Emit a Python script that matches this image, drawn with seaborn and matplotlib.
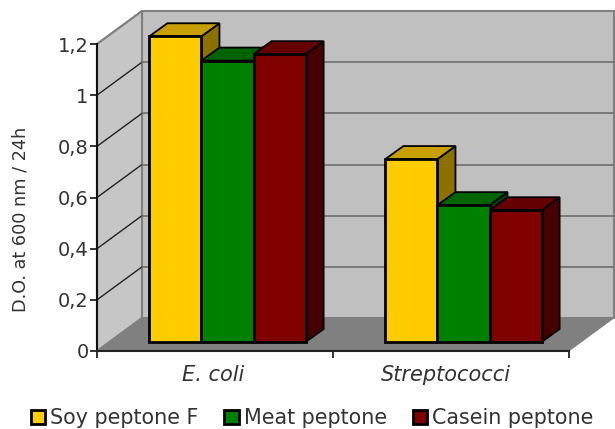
import pandas as pd
import matplotlib.pyplot as plt
import matplotlib.colors as mcolors
from matplotlib.patches import Polygon
import seaborn as sns

sns.set_style("white")

categories = ["E. coli", "Streptococci"]
series_names = ["Soy peptone F", "Meat peptone", "Casein peptone"]
soy_values = [1.195, 0.715]
meat_values = [1.10, 0.535]
casein_values = [1.125, 0.515]
colors = ["#FFCC00", "#008000", "#800000"]
y_ticks = [0, 0.2, 0.4, 0.6, 0.8, 1, 1.2]
y_tick_labels = ["0", "0,2", "0,4", "0,6", "0,8", "1", "1,2"]

df = pd.DataFrame({
    "Category": categories * 3,
    "Series": [s for s in series_names for _ in categories],
    "Value": soy_values + meat_values + casein_values,
})

W, H = 615, 429
text_color = "#333333"

fig = plt.figure(figsize=(W / 100, H / 100), dpi=100, facecolor="white")


def px_rect(left, top, right, bottom):
    return [left / W, 1 - bottom / H, (right - left) / W, (bottom - top) / H]


# main axes holds the walls, floor and the axis lines
ax = fig.add_axes(px_rect(97, 44, 569, 351))
ax.set_xlim(0, 2)
ax.set_ylim(0, 1.2)
ax.patch.set_alpha(0)

# one pixel in data units of the main axes
ux = 2 / 472
uy = 1.2 / 307
wall_dx = 45 * ux
wall_dy = 33 * uy

ax.add_patch(Polygon([(wall_dx, wall_dy), (2 + wall_dx, wall_dy), (2 + wall_dx, 1.2 + wall_dy), (wall_dx, 1.2 + wall_dy)],
                     closed=True, facecolor="#C0C0C0", edgecolor="#808080", linewidth=1.5, clip_on=False, zorder=0))
ax.add_patch(Polygon([(0, 0), (wall_dx, wall_dy), (wall_dx, 1.2 + wall_dy), (0, 1.2)],
                     closed=True, facecolor="#C6C6C6", edgecolor="#808080", linewidth=1.5, clip_on=False, zorder=0))
ax.add_patch(Polygon([(0, 0), (2, 0), (2 + wall_dx, wall_dy), (wall_dx, wall_dy)],
                     closed=True, facecolor="#808080", edgecolor="#808080", linewidth=0.5, clip_on=False, zorder=1))

# grid lines along the left wall and the back wall
for t in y_ticks[1:-1]:
    ax.plot([0, wall_dx], [t, t + wall_dy], color="#222222", lw=1, clip_on=False, zorder=2)
    ax.plot([wall_dx, 2 + wall_dx], [t + wall_dy, t + wall_dy], color="#6E6E6E", lw=1.2, clip_on=False, zorder=2)
ax.plot([0, wall_dx], [1.2, 1.2 + wall_dy], color="#808080", lw=1.2, clip_on=False, zorder=2)

ax.set_yticks(y_ticks)
ax.set_yticklabels(y_tick_labels, fontsize=14, color=text_color)
ax.set_xticks([0, 1, 2])
ax.set_xticklabels([])
ax.set_xticks([0.49, 1.48], labels=categories, minor=True, fontsize=15, style="italic", color=text_color)
ax.tick_params(axis="both", which="major", length=5, width=1.2, color="#111111", left=True, bottom=True, pad=1)
ax.tick_params(axis="x", which="minor", length=0, pad=10)
ax.set_ylabel("D.O. at 600 nm / 24h", fontsize=12.7, color=text_color)
ax.yaxis.set_label_coords(-67 / 472, 0.43)
ax.set_xlabel("")
sns.despine(ax=ax)
ax.spines["left"].set_linewidth(1.5)
ax.spines["bottom"].set_linewidth(1.5)
ax.spines["left"].set_color("#111111")
ax.spines["bottom"].set_color("#222222")

# the bars stand a little behind the front edge of the floor
ax_bar = fig.add_axes(px_rect(109.5, 35, 581.5, 342))
sns.barplot(data=df, x="Category", y="Value", hue="Series", hue_order=series_names, palette=colors,
            order=categories, width=0.662, gap=0, saturation=1, edgecolor="black", linewidth=2.0, ax=ax_bar)
ax_bar.set_xlim(-0.5, 1.5)
ax_bar.set_ylim(0, 1.2)

handles, labels = ax_bar.get_legend_handles_labels()
ax_bar.get_legend().remove()

bar_dx = 18 * ux
bar_dy = 13 * uy
z = 3
for bar in ax_bar.patches:
    if bar.get_height() == 0:
        continue
    x0 = bar.get_x()
    x1 = x0 + bar.get_width()
    top = bar.get_height()
    rgb = mcolors.to_rgb(bar.get_facecolor())
    top_color = [c * 0.78 for c in rgb]
    side_color = [c * 0.55 for c in rgb]
    ax_bar.add_patch(Polygon([(x1, 0), (x1 + bar_dx, bar_dy), (x1 + bar_dx, top + bar_dy), (x1, top)],
                             closed=True, facecolor=side_color, edgecolor="black", linewidth=1.3,
                             clip_on=False, zorder=z))
    ax_bar.add_patch(Polygon([(x0, top), (x0 + bar_dx, top + bar_dy), (x1 + bar_dx, top + bar_dy), (x1, top)],
                             closed=True, facecolor=top_color, edgecolor="black", linewidth=1.3,
                             clip_on=False, zorder=z))
    bar.set_zorder(z + 0.5)
    bar.set_clip_on(False)
    z += 1

ax_bar.set_axis_off()

fig.legend(handles, labels, loc="center left", bbox_to_anchor=(31 / W, 1 - 418 / H),
           bbox_transform=fig.transFigure, ncol=3, frameon=False, fontsize=14.9,
           handlelength=0.68, handleheight=0.68, handletextpad=0.25, columnspacing=1.25,
           labelcolor=text_color, borderpad=0, borderaxespad=0)

fig.savefig("out.png", dpi=100)
plt.close()
